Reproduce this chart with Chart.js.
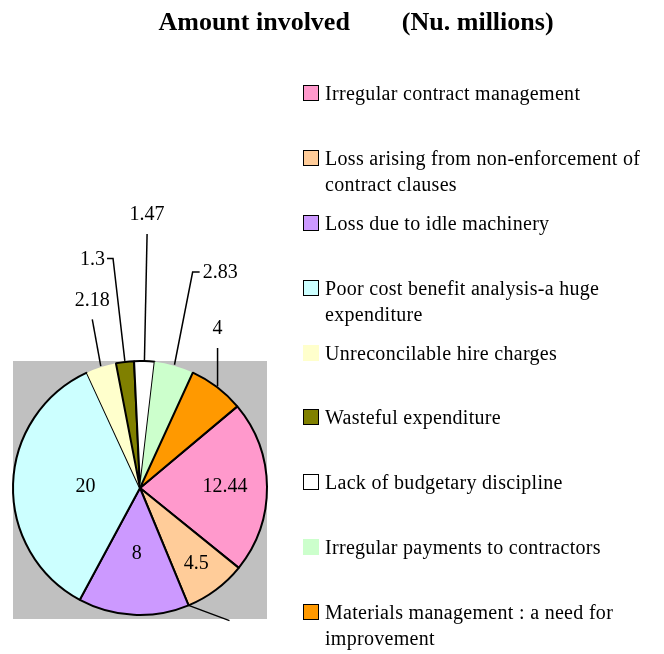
<!DOCTYPE html>
<html>
<head>
<meta charset="utf-8">
<script src="https://cdn.jsdelivr.net/npm/chart.js@4.4.1/dist/chart.umd.min.js"></script>
<style>
    body { margin: 0; background: #fff; }
    .wrap { position: relative; width: 664px; height: 654px; }
    #pie { position: absolute; left: 0; top: 0; }
    .legend { position: absolute; left: 303px; top: 80px; width: 356px; margin: 0; padding: 0; list-style: none;
        font-family: "Liberation Serif", "Times New Roman", serif; font-size: 20px; line-height: 26px; color: #000;
        letter-spacing: 0.3px; }
    .legend li { height: 64.9px; display: flex; align-items: flex-start; }
    .legend .box { flex: none; width: 16px; height: 16px; margin-top: 5px; margin-right: 6px; box-sizing: border-box; }
</style>
</head>
<body>
<div class="wrap">
    <canvas id="pie" width="664" height="654"></canvas>
    <ul class="legend"></ul>
</div>
<script>
// values (Nu. millions)
const categories = [
    "Irregular contract management",
    "Loss arising from non-enforcement of contract clauses",
    "Loss due to idle machinery",
    "Poor cost benefit analysis-a huge expenditure",
    "Unreconcilable hire charges",
    "Wasteful expenditure",
    "Lack of budgetary discipline",
    "Irregular payments to contractors",
    "Materials management : a need for improvement"
];
const amounts = [12.44, 4.5, 8, 20, 2.18, 1.3, 1.47, 2.83, 4];
const chartTitle = "Amount involved        (Nu. millions)";

const sliceColors = ["#FF99CC", "#FFCC99", "#CC99FF", "#CCFFFF", "#FFFFCC", "#808000", "#FFFFFF", "#CCFFCC", "#FF9900"];
const sliceBorders = [2, 2, 2, 2, 0, 2, 2, 0, 2];

// where each value label goes: inside at a fraction of the radius, or out on a leader line
const labelPlacement = [
    { inside: 0.67 },
    { inside: 0.74, tail: { angle: 146, dist: 1.26 } },
    { inside: 0.52 },
    { inside: 0.43 },
    { angle: -15.8, dist: 1.38, side: "above" },
    { angle: -6.7, dist: 1.82, side: "left" },
    { angle: 1.6, dist: 2.0, side: "above" },
    { angle: 13.7, dist: 1.75, side: "right" },
    { angle: 29, dist: 1.26, side: "above" }
];

const serif = '"Liberation Serif", "Times New Roman", serif';

const ul = document.querySelector(".legend");
categories.forEach((c, i) => {
    let li = document.createElement("li");
    let box = document.createElement("span");
    box.className = "box";
    box.style.background = sliceColors[i];
    if (sliceBorders[i] > 0) box.style.border = "1.5px solid #000";
    let txt = document.createElement("span");
    txt.textContent = c;
    li.appendChild(box);
    li.appendChild(txt);
    ul.appendChild(li);
});

function polar(cx, cy, r, deg) {
    const a = (deg - 90) * Math.PI / 180;
    return { x: cx + r * Math.cos(a), y: cy + r * Math.sin(a) };
}

const pieDecor = {
    id: "pieDecor",
    beforeDatasetsDraw(chart) {
        const arc = chart.getDatasetMeta(0).data[0];
        const { x, y, outerRadius } = arc.getProps(["x", "y", "outerRadius"], true);
        const ctx = chart.ctx;
        ctx.save();
        ctx.fillStyle = "#C0C0C0";
        ctx.fillRect(x - outerRadius, y - outerRadius, outerRadius * 2, outerRadius * 2 + 4);
        ctx.restore();
    },
    afterDatasetsDraw(chart) {
        const ctx = chart.ctx;
        const meta = chart.getDatasetMeta(0);
        ctx.save();
        ctx.fillStyle = "#000";
        ctx.strokeStyle = "#000";
        ctx.lineWidth = 1.5;
        ctx.font = "20px " + serif;
        meta.data.forEach((arc, i) => {
            const p = arc.getProps(["x", "y", "startAngle", "endAngle", "outerRadius"], true);
            const mid = (p.startAngle + p.endAngle) / 2;
            const place = labelPlacement[i];
            const text = String(amounts[i]);
            if (place.inside) {
                ctx.textAlign = "center";
                ctx.textBaseline = "middle";
                ctx.fillText(text, p.x + Math.cos(mid) * p.outerRadius * place.inside, p.y + Math.sin(mid) * p.outerRadius * place.inside);
                if (place.tail) {
                    const end = polar(p.x, p.y, p.outerRadius * place.tail.dist, place.tail.angle);
                    ctx.beginPath();
                    ctx.moveTo(p.x + Math.cos(p.endAngle) * p.outerRadius, p.y + Math.sin(p.endAngle) * p.outerRadius);
                    ctx.lineTo(end.x, end.y);
                    ctx.stroke();
                }
                return;
            }
            const sx = p.x + Math.cos(mid) * (p.outerRadius + 1);
            const sy = p.y + Math.sin(mid) * (p.outerRadius + 1);
            const e = polar(p.x, p.y, p.outerRadius * place.dist, place.angle);
            ctx.beginPath();
            ctx.moveTo(sx, sy);
            ctx.lineTo(e.x, e.y);
            if (place.side === "left") ctx.lineTo(e.x - 6, e.y);
            if (place.side === "right") ctx.lineTo(e.x + 7, e.y);
            ctx.stroke();
            ctx.textBaseline = "middle";
            if (place.side === "above") {
                ctx.textAlign = "center";
                ctx.fillText(text, e.x, e.y - 19);
            } else if (place.side === "left") {
                ctx.textAlign = "right";
                ctx.fillText(text, e.x - 8, e.y + 1);
            } else {
                ctx.textAlign = "left";
                ctx.fillText(text, e.x + 10, e.y + 1);
            }
        });
        ctx.restore();
    },
    afterDraw(chart) {
        const ctx = chart.ctx;
        ctx.save();
        ctx.font = "bold 26px " + serif;
        ctx.fillStyle = "#000";
        ctx.textAlign = "center";
        ctx.textBaseline = "middle";
        ctx.fillText(chartTitle, 356, 23);
        ctx.restore();
    }
};

new Chart(document.getElementById("pie"), {
    type: "pie",
    data: {
        labels: categories,
        datasets: [
            {
                data: amounts,
                backgroundColor: sliceColors,
                borderColor: "#000",
                borderWidth: sliceBorders,
                hoverOffset: 0
            }
        ]
    },
    options: {
        responsive: false,
        animation: false,
        rotation: 50,
        layout: { padding: { left: 12, top: 360, right: 396, bottom: 38 } },
        plugins: {
            legend: { display: false },
            tooltip: { enabled: false }
        }
    },
    plugins: [pieDecor]
});
</script>
</body>
</html>
